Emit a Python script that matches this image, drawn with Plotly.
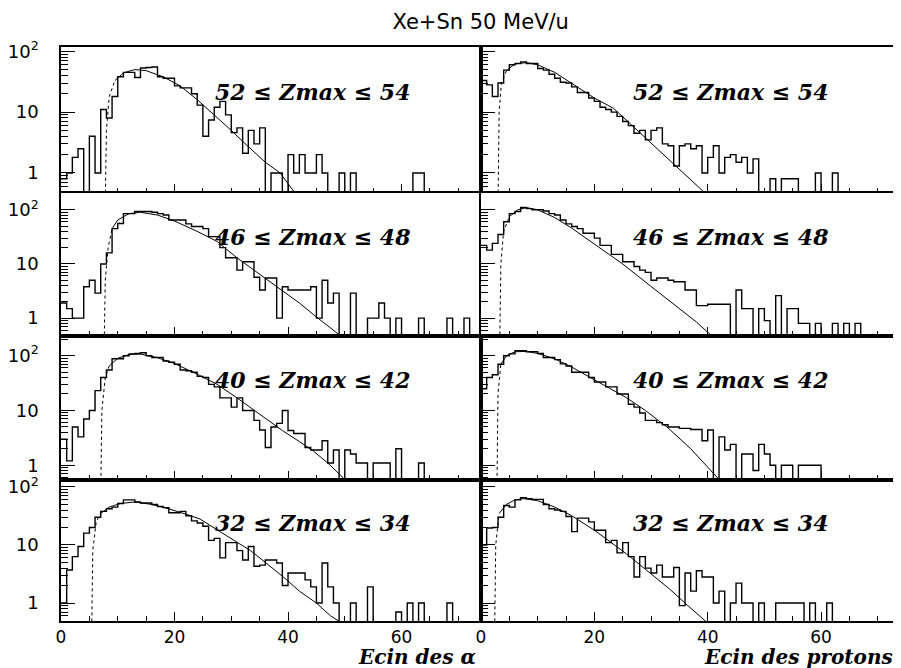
import plotly.graph_objects as go
from plotly.subplots import make_subplots

# 1 MeV bins, edges 0..74
bin_edges = list(range(75))

# counts per bin (0 = empty bin)
alpha_52_54 = [0.8, 1, 1.8, 2.5, 0, 4, 1, 11, 8, 18,
               38, 45, 45, 37, 53, 54, 55, 38, 36, 36,
               27, 25, 25, 20, 13, 4, 7.4, 12, 15, 9,
               4.6, 5.5, 2.1, 5, 3, 5.5, 0, 1, 1, 0,
               2, 1, 2, 1, 1, 2, 1, 0, 0, 1,
               0, 1, 0, 0, 0, 0, 0, 0, 0, 0,
               0, 0, 1, 1, 0, 0, 0, 0, 0, 0,
               0, 0, 0, 0]
proton_52_54 = [33, 28, 18, 30, 49, 60, 63, 67, 63, 63,
                52, 49, 42, 36, 31, 30, 26, 21, 21, 17,
                15, 12, 11, 10, 8.5, 7, 6, 4.5, 5, 3.5,
                5, 5.5, 3, 2.8, 1.3, 2.8, 3, 2.5, 2.8, 1,
                1.8, 2.8, 1, 1.8, 2, 1.5, 1.8, 1, 1.7, 0,
                0, 0.8, 0, 0.8, 0.8, 0.8, 0, 0, 0, 1,
                0, 0, 1, 0, 0, 0, 0, 0, 0, 0,
                0, 0, 0, 0]
alpha_46_48 = [1.9, 1.5, 1, 1, 3.8, 5, 2.9, 10, 16, 45,
               56, 85, 85, 93, 93, 93, 90, 85, 80, 65,
               65, 65, 55, 49, 49, 45, 32, 32, 20, 13,
               13, 7.7, 11, 11, 5.7, 3.3, 5.5, 5.5, 1, 3.8,
               3.3, 3.3, 3.3, 3.3, 3.8, 1, 5, 1.9, 2.9, 0,
               0, 2.9, 0, 0, 1, 1, 1.9, 1, 0, 1,
               0, 0, 0, 1, 0, 0, 0, 0, 1, 0,
               0, 1, 0, 0]
proton_46_48 = [22, 18, 24, 35, 60, 85, 93, 110, 105, 100,
                100, 95, 85, 80, 65, 55, 49, 45, 37, 37,
                30, 22, 22, 15, 15, 11, 11, 9, 7.7, 7,
                5, 5.5, 5.5, 5, 4.7, 4.7, 3.3, 3.3, 1.7, 1.7,
                1.8, 1.8, 1.8, 1.8, 0, 3.3, 1.5, 1.5, 0, 1.5,
                0.9, 0, 2.6, 0, 1.5, 1.5, 0.8, 0.8, 0, 0.8,
                0, 0, 0.8, 0, 0.8, 0, 0.8, 0, 0, 0,
                0, 0, 0, 0]
alpha_40_42 = [3, 1.2, 5, 3.3, 7, 10, 23, 40, 55, 88,
               88, 100, 108, 110, 113, 100, 93, 93, 80, 76,
               70, 55, 53, 50, 42, 40, 30, 27, 17, 17,
               11.5, 17, 10, 10, 6.6, 4.4, 2.1, 5, 5.8, 10,
               4.3, 3.8, 3.8, 2.1, 1.9, 1.9, 2.8, 1.1, 1.9, 0,
               1.9, 1.6, 1.1, 1.1, 0, 1.1, 1.1, 1.1, 0, 2,
               0, 0, 0, 1.1, 0, 0, 0, 0, 0, 0,
               0, 0, 0, 0]
proton_40_42 = [25, 40, 45, 70, 100, 108, 123, 123, 118, 118,
                110, 93, 93, 85, 71, 65, 50, 50, 50, 40,
                33, 33, 27, 27, 20, 20, 13, 11.5, 9, 6.6,
                6.6, 6, 5.5, 5, 5, 4.7, 4.7, 4.5, 4.5, 2.8,
                4.4, 0, 3.3, 1.9, 2.4, 0, 1.6, 1.6, 0.8, 2.4,
                1.6, 1, 0, 1, 1, 0, 1, 1, 1, 1,
                0, 0, 0, 0, 0, 0, 0, 0, 0, 0,
                0, 0, 0, 0]
alpha_32_34 = [1, 3.7, 6.3, 9.4, 16, 20, 30, 38, 42, 45,
               52, 60, 60, 55, 53, 53, 50, 46, 44, 36,
               36, 38, 32, 26, 24, 21, 12, 13, 6, 11,
               11, 8, 5.5, 9.4, 4.3, 4.5, 5.5, 5.5, 4.9, 2,
               3.3, 3.3, 3.3, 2.5, 1.9, 1, 4.9, 1.9, 1, 0,
               0, 1, 0, 0, 1.9, 0, 0, 0, 0, 0.7,
               0, 1, 0, 1, 0, 0, 0, 0, 1, 0,
               0, 0, 0, 0]
proton_32_34 = [10, 19.6, 20, 30, 48, 45, 60, 65, 63, 61,
                61, 50, 42, 40, 38, 31, 17, 29, 29, 25,
                18, 18, 11, 12, 7.3, 11, 6.3, 2.8, 6.3, 4,
                3.3, 4.5, 2.8, 2.8, 4.1, 0.9, 3.3, 1.6, 3.6, 2.8,
                2.8, 1, 1.6, 0, 1, 2.2, 1, 1, 0, 1,
                0, 0, 1, 1, 1, 1, 1, 0, 1, 0,
                0, 1, 0, 0, 0, 0, 0, 0, 0, 0,
                0, 0, 0, 1]

# fitted curves (energy, value)
fit_a52_e = [7.8, 8.0, 8.5, 9.5, 11, 13, 15, 18, 21, 24, 27, 30, 33, 36, 38.6, 41]
fit_a52_y = [0.3, 5, 18, 33, 44, 50, 48, 38, 27, 16, 9, 5, 2.7, 1.5, 1.0, 0.5]
fit_p52_e = [3.0, 3.2, 3.6, 4.5, 6, 8, 10, 13, 16, 20, 23.4, 28, 32, 35, 39.5]
fit_p52_y = [0.3, 10, 30, 48, 62, 65, 60, 45, 30, 17, 11.5, 4.6, 2.1, 1.17, 0.47]
fit_a46_e = [7.6, 7.8, 8.3, 9, 10, 12, 14, 17, 20, 24, 27.5, 31, 35, 39, 42, 45, 49.5]
fit_a46_y = [0.3, 5, 20, 45, 65, 85, 90, 80, 62, 40, 26, 13, 6.5, 3.3, 1.9, 1.05, 0.45]
fit_p46_e = [3.3, 3.5, 4, 5, 6.5, 8, 10, 13, 16, 18.5, 21.6, 25, 29.8, 34, 38, 40.7]
fit_p46_y = [0.3, 10, 40, 75, 100, 110, 100, 72, 46, 30, 18, 10, 4, 1.8, 0.85, 0.47]
fit_a40_e = [7.0, 7.2, 7.8, 8.5, 10, 12, 14, 17, 20, 24, 27.5, 31, 35, 39, 42, 44.5, 47, 50]
fit_a40_y = [0.3, 10, 40, 65, 90, 105, 107, 92, 72, 46, 30, 17, 8.5, 4.3, 2.7, 1.8, 1.1, 0.55]
fit_p40_e = [2.8, 3.0, 3.5, 4.5, 6, 8, 10, 13, 16, 19, 22, 25.7, 29, 33, 37, 42]
fit_p40_y = [0.3, 20, 70, 100, 118, 120, 110, 88, 62, 42, 28, 17, 10, 4.8, 2.0, 0.55]
fit_a32_e = [5.4, 5.6, 6.2, 7, 8.5, 10.5, 13, 16, 19, 22, 24.5, 28, 31, 33.4, 36, 39.2, 42, 45, 47.5, 49.5]
fit_a32_y = [0.3, 8, 25, 35, 45, 52, 55, 50, 42, 34, 28, 17, 11, 8, 5, 2.8, 1.6, 1.0, 0.6, 0.45]
fit_p32_e = [2.4, 2.6, 3.2, 4.5, 6, 7.5, 10, 13, 16, 20, 25.7, 29.8, 33.4, 36.5, 39.8]
fit_p32_y = [0.3, 10, 35, 50, 60, 63, 58, 45, 32, 18, 7, 3.3, 1.7, 0.9, 0.47]

zmax_labels = ["52 \u2264 Zmax \u2264 54", "46 \u2264 Zmax \u2264 48",
               "40 \u2264 Zmax \u2264 42", "32 \u2264 Zmax \u2264 34"]

panels = [
    (1, 1, alpha_52_54, fit_a52_e, fit_a52_y), (1, 2, proton_52_54, fit_p52_e, fit_p52_y),
    (2, 1, alpha_46_48, fit_a46_e, fit_a46_y), (2, 2, proton_46_48, fit_p46_e, fit_p46_y),
    (3, 1, alpha_40_42, fit_a40_e, fit_a40_y), (3, 2, proton_40_42, fit_p40_e, fit_p40_y),
    (4, 1, alpha_32_34, fit_a32_e, fit_a32_y), (4, 2, proton_32_34, fit_p32_e, fit_p32_y),
]

# log10 y-range per row (rows are autoscaled separately)
row_ranges = [[-0.33, 2.07], [-0.33, 2.31], [-0.27, 2.36], [-0.31, 2.12]]
col_ranges = [[0, 74], [0, 73.4]]

fig = make_subplots(rows=4, cols=2, horizontal_spacing=0, vertical_spacing=0,
                    row_heights=[146, 143, 144, 141], column_widths=[420, 416])

FLOOR = 0.1  # empty bins drawn below the axis
for row, col, counts, fe, fy in panels:
    xs = bin_edges[:-1] + [bin_edges[-1]]
    ys = [c if c > 0 else FLOOR for c in counts]
    ys = ys + [ys[-1]]
    fig.add_trace(go.Scatter(x=xs, y=ys, mode='lines', line=dict(color='black', width=1.4, shape='hv'),
                             showlegend=False, hoverinfo='skip'), row=row, col=col)
    # steep rising part of the fit is dotted, rest solid
    k = next(i for i, v in enumerate(fy) if v >= 0.5 * max(fy))
    fig.add_trace(go.Scatter(x=fe[:k + 1], y=fy[:k + 1], mode='lines',
                             line=dict(color='black', width=1, dash='dot'),
                             showlegend=False, hoverinfo='skip'), row=row, col=col)
    fig.add_trace(go.Scatter(x=fe[k:], y=fy[k:], mode='lines', line=dict(color='black', width=1),
                             showlegend=False, hoverinfo='skip'), row=row, col=col)

minor_y = [0.5, 0.6, 0.7, 0.8, 0.9] + list(range(2, 10)) + list(range(20, 100, 10)) + [200]

for row in range(1, 5):
    for col in range(1, 3):
        fig.update_xaxes(range=col_ranges[col - 1], showline=True, mirror=True, linecolor='black',
                         linewidth=1.5, ticks='inside', tick0=0, dtick=20, ticklen=9, tickcolor='black',
                         minor=dict(dtick=5, tick0=0, ticks='inside', ticklen=5, tickcolor='black'),
                         showgrid=False, zeroline=False, showticklabels=(row == 4), automargin=False,
                         tickfont=dict(family='DejaVu Sans', size=17, color='black'),
                         row=row, col=col)
        fig.update_yaxes(type='log', range=row_ranges[row - 1], showline=True, mirror=True,
                         linecolor='black', linewidth=1.5, ticks='inside', ticklen=14, tickcolor='black',
                         tickvals=[1, 10, 100], ticktext=['1', '10', '10<sup>2</sup>'],
                         minor=dict(tickmode='array', tickvals=minor_y, ticks='inside', ticklen=7,
                                    tickcolor='black'),
                         showgrid=False, showticklabels=(col == 1), ticklabelstandoff=17,
                         automargin=False,
                         tickfont=dict(family='DejaVu Sans', size=18, color='black'),
                         row=row, col=col)

# Zmax labels inside each panel
for row, col, *_rest in panels:
    n = (row - 1) * 2 + col
    sfx = '' if n == 1 else str(n)
    fig.add_annotation(text='<b><i>' + zmax_labels[row - 1] + '</i></b>',
                       xref='x%s domain' % sfx, yref='y%s domain' % sfx,
                       x=0.6, y=0.695, showarrow=False, xanchor='center', yanchor='middle',
                       font=dict(family='DejaVu Serif', size=22, color='black'))

fig.add_annotation(text='<b><i>Ecin des \u03b1</i></b>', xref='paper', yref='paper',
                   x=0.499, y=-0.063, xanchor='right', yanchor='middle', showarrow=False,
                   font=dict(family='DejaVu Serif', size=20, color='black'))
fig.add_annotation(text='<b><i>Ecin des protons</i></b>', xref='paper', yref='paper',
                   x=0.998, y=-0.063, xanchor='right', yanchor='middle', showarrow=False,
                   font=dict(family='DejaVu Serif', size=20, color='black'))

# page body adds an 8px offset, so the figure is 8px smaller than the window
fig.update_layout(
    width=893, height=660,
    margin=dict(l=53, r=4, t=39, b=47, autoexpand=False),
    paper_bgcolor='white', plot_bgcolor='white',
    title=dict(text='Xe+Sn 50 MeV/u', x=0.502, xref='paper', y=0.98, yanchor='middle',
               xanchor='center', font=dict(family='DejaVu Sans', size=21, color='black')),
    showlegend=False,
)

fig.write_html("out.html")
